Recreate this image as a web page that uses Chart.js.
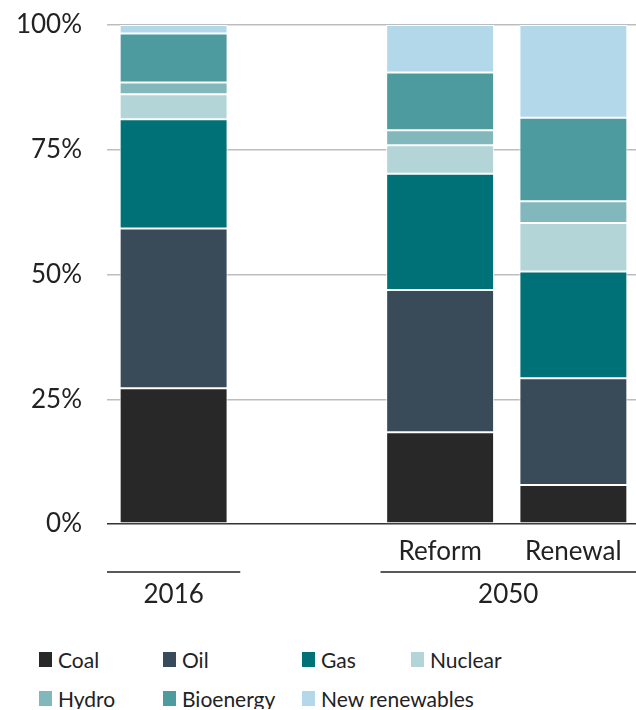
<!DOCTYPE html>
<html>
<head>
<meta charset="utf-8">
<script src="https://cdn.jsdelivr.net/npm/chart.js@4"></script>
<style>
  body { margin: 0; background: #fff; font-family: Lato, sans-serif; overflow: hidden; }
  #wrap { position: relative; width: 636px; height: 630px; overflow: hidden; }
  #legend {
    display: grid;
    grid-template-columns: 124px 139px 109px 180px;
    padding-left: 39px;
    row-gap: 17px;
    margin-top: 18px;
    font-size: 21px;
    color: #222;
  }
  #legend div { display: flex; align-items: center; height: 22px; white-space: nowrap; }
  #legend span.box { display: inline-block; flex-shrink: 0; width: 13px; height: 15px; margin-right: 6px; }
</style>
</head>
<body>
<div id="wrap"><canvas id="myChart" width="640" height="630"></canvas></div>
<div id="legend"></div>
<script>
const categories = ['', '', 'Reform', 'Renewal'];
const groups = [
  { label: '2016', from: 0, to: 0 },
  { label: '2050', from: 2, to: 3 }
];
const coal = [27.2, null, 18.4, 7.8];
const oil = [32.0, null, 28.5, 21.4];
const gas = [21.9, null, 23.3, 21.4];
const nuclear = [5.0, null, 5.7, 9.7];
const hydro = [2.4, null, 3.0, 4.4];
const bioenergy = [9.8, null, 11.6, 16.7];
const newRenewables = [1.7, null, 9.5, 18.6];
const yTicks = [0, 25, 50, 75, 100];

const series = [
  { label: 'Coal', data: coal, color: '#282828' },
  { label: 'Oil', data: oil, color: '#394a58' },
  { label: 'Gas', data: gas, color: '#007176' },
  { label: 'Nuclear', data: nuclear, color: '#b3d5d7' },
  { label: 'Hydro', data: hydro, color: '#82b7bb' },
  { label: 'Bioenergy', data: bioenergy, color: '#4d9b9f' },
  { label: 'New renewables', data: newRenewables, color: '#b3d8ea' }
];

// group labels under the category labels
const groupPlugin = {
  id: 'groups',
  afterDraw(chart) {
    const x = chart.scales.x;
    const c = chart.ctx;
    const half = (x.getPixelForValue(1) - x.getPixelForValue(0)) / 2;
    c.save();
    c.strokeStyle = '#222';
    c.lineWidth = 1.5;
    c.fillStyle = '#222';
    c.font = '26px Lato';
    c.textAlign = 'center';
    c.textBaseline = 'middle';
    groups.forEach(g => {
      const l = x.getPixelForValue(g.from) - half + (g.from > 0 ? 7 : 0);
      const r = Math.min(x.getPixelForValue(g.to) + half, 636);
      c.beginPath();
      c.moveTo(l, 572);
      c.lineTo(r, 572);
      c.stroke();
      c.fillText(g.label, (l + r) / 2, 595);
    });
    c.restore();
  }
};

const ctx = document.getElementById('myChart');

new Chart(ctx, {
  type: 'bar',
  data: {
    labels: categories,
    datasets: series.map(s => ({
      label: s.label,
      data: s.data,
      backgroundColor: s.color,
      borderColor: '#fff',
      borderWidth: 1,
      borderSkipped: false,
      barPercentage: 0.81,
      categoryPercentage: 1
    }))
  },
  options: {
    responsive: false,
    animation: false,
    layout: { padding: { top: 25, right: 0, left: 0, bottom: 0 } },
    plugins: { legend: { display: false }, tooltip: { enabled: false } },
    scales: {
      x: {
        stacked: true,
        grid: { display: false },
        border: { display: false },
        ticks: { color: '#222', font: { family: 'Lato', size: 26 }, padding: 4 },
        afterFit(scale) { scale.height = 106; scale.paddingLeft = 0; scale.paddingRight = 0; }
      },
      y: {
        stacked: true,
        min: 0,
        max: 100,
        afterBuildTicks(scale) { scale.ticks = yTicks.map(v => ({ value: v })); },
        grid: {
          drawTicks: false,
          color: c => c.tick.value === 0 ? '#333' : '#bdbdbd',
          lineWidth: 1.5
        },
        border: { display: false },
        ticks: {
          color: '#222',
          font: { family: 'Lato', size: 26 },
          padding: 25,
          callback: v => v + '%'
        },
        afterFit(scale) { scale.width = 107; scale.paddingTop = 0; scale.paddingBottom = 0; }
      }
    }
  },
  plugins: [groupPlugin]
});

const legend = document.getElementById('legend');
series.forEach(s => {
  const d = document.createElement('div');
  d.innerHTML = '<span class="box" style="background:' + s.color + '"></span>' + s.label;
  legend.appendChild(d);
});
</script>
</body>
</html>
